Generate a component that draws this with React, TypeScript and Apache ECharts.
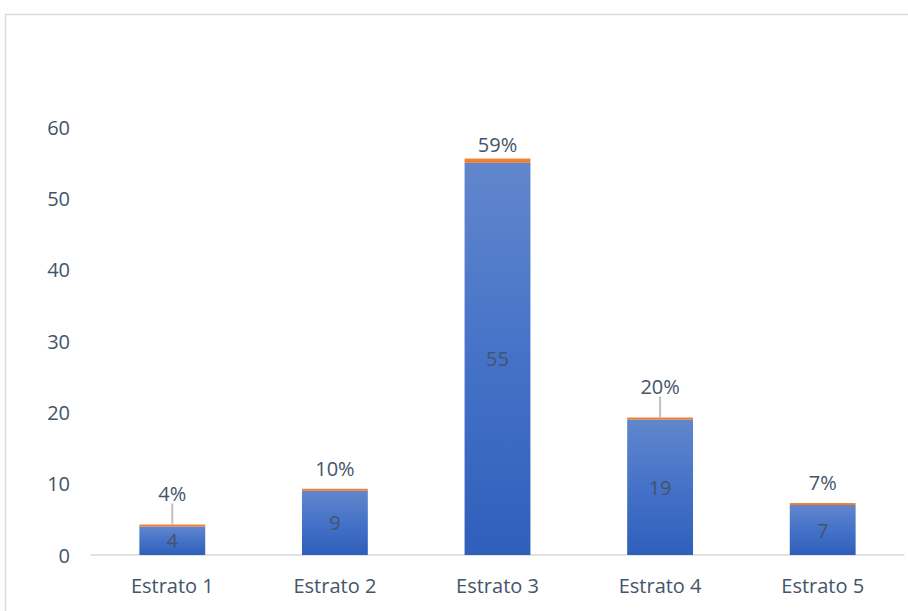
import React, { useEffect, useRef } from "react";
import * as echarts from "echarts";

const categories = ["Estrato 1", "Estrato 2", "Estrato 3", "Estrato 4", "Estrato 5"];
const counts = [4, 9, 55, 19, 7];
const shares = [0.04, 0.1, 0.59, 0.2, 0.07];
const yTicks = { min: 0, max: 60, interval: 10 };

// layout of the share labels (not data)
const shareLabelGap = [9, 10, 4, 9, 11];
const shareLeader = [true, false, false, true, false];

const TEXT = "#44546A";
const FONT = "Open Sans";

export default function App() {
  const ref = useRef<HTMLDivElement>(null);
  useEffect(() => {
    document.body.style.margin = "0";
    const chart = echarts.init(ref.current!, null, { renderer: "svg" });
    chart.setOption({
      animation: false,
      backgroundColor: "#ffffff",
      textStyle: { fontFamily: FONT },
      graphic: [
        {
          type: "rect",
          shape: { x: 5.5, y: 14.5, width: 1000, height: 1000 },
          style: { fill: "none", stroke: "#D9DDE3", lineWidth: 1.5 },
          silent: true,
        },
      ],
      grid: { left: 91, right: 4, top: 127, bottom: 56 },
      xAxis: {
        type: "category",
        data: categories,
        axisLine: { show: true, lineStyle: { color: "#D9D9D9", width: 1.5 } },
        axisTick: { show: false },
        axisLabel: { color: TEXT, fontSize: 20, margin: 20, fontFamily: FONT },
      },
      yAxis: {
        type: "value",
        min: yTicks.min,
        max: yTicks.max,
        interval: yTicks.interval,
        axisLine: { show: false },
        axisTick: { show: false },
        splitLine: { show: false },
        axisLabel: { color: TEXT, fontSize: 20, margin: 21, fontFamily: FONT },
      },
      series: [
        {
          type: "bar",
          stack: "a",
          data: counts,
          barWidth: "40.5%",
          itemStyle: {
            color: new echarts.graphic.LinearGradient(0, 0, 0, 1, [
              { offset: 0, color: "#6186CC" },
              { offset: 0.5, color: "#4572C8" },
              { offset: 1, color: "#2F5FBB" },
            ]),
          },
          label: {
            show: true,
            position: "inside",
            color: TEXT,
            fontSize: 20,
            fontFamily: FONT,
          },
        },
        {
          type: "bar",
          stack: "a",
          data: shares.map((v, i) => ({
            value: v,
            label: { distance: shareLabelGap[i] },
            labelLine: { show: shareLeader[i] },
          })),
          barMinHeight: 2,
          itemStyle: {
            color: new echarts.graphic.LinearGradient(0, 0, 0, 1, [
              { offset: 0, color: "#F08A3E" },
              { offset: 1, color: "#E97628" },
            ]),
          },
          label: {
            show: true,
            position: "top",
            color: TEXT,
            fontSize: 20,
            fontFamily: FONT,
            formatter: (p: any) => Math.round(p.value * 100) + "%",
          },
          labelLayout: (p: any) => (shareLeader[p.dataIndex] ? { dy: -12 } : {}),
          labelLine: { show: false, lineStyle: { color: "#BFBFBF", width: 2 } },
        },
      ],
    });
    return () => chart.dispose();
  }, []);
  return <div ref={ref} style={{ width: 908, height: 611 }} />;
}
